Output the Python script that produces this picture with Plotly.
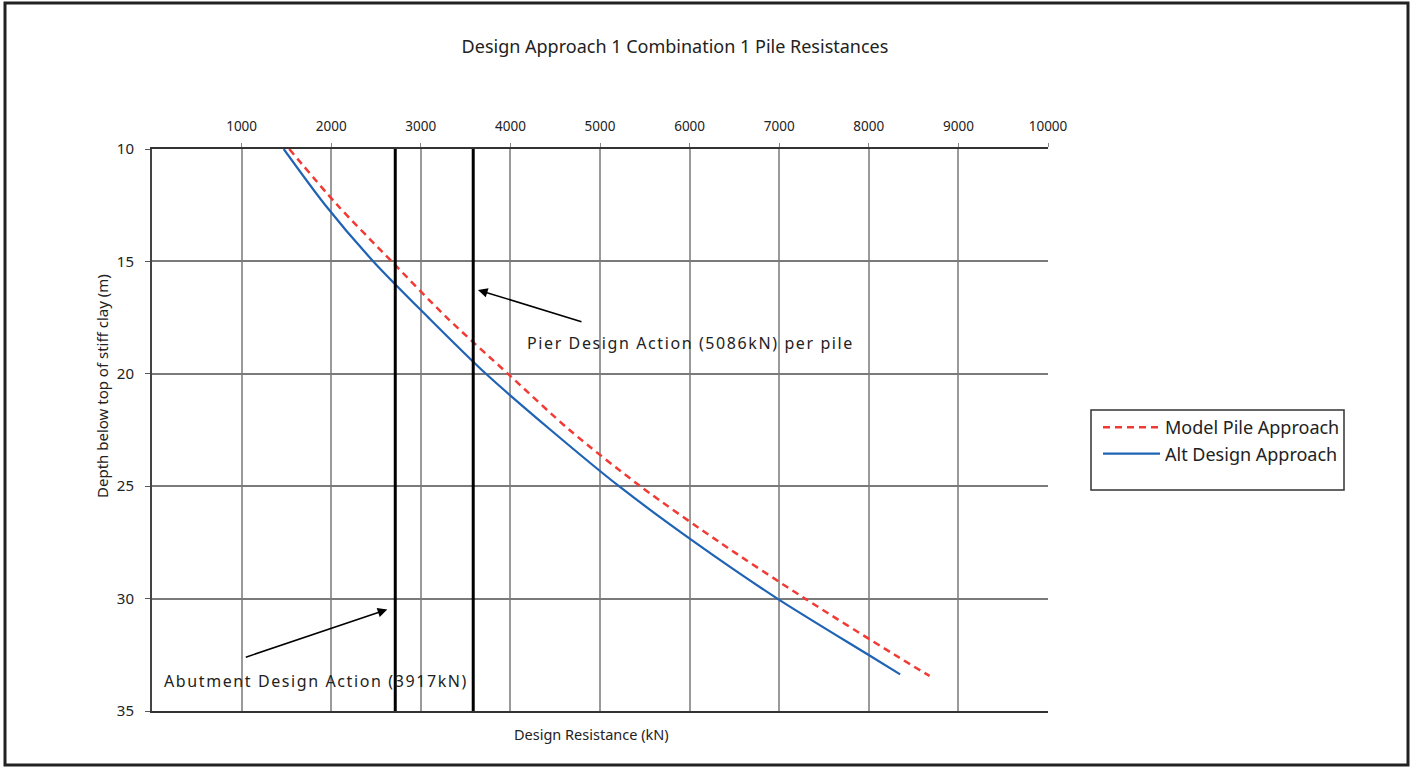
import plotly.graph_objects as go

# Design resistance (kN) against depth below top of stiff clay (m)
model_depth = [10, 12.5, 15, 17.5, 20, 22.5, 25, 27.5, 30, 32.5, 33.44]
model_resist = [1532, 2070, 2675, 3290, 3973, 4660, 5450, 6337, 7288, 8288, 8678]

alt_depth = [10, 12.5, 15, 17.5, 20, 22.5, 25, 27.5, 30, 32.5, 33.37]
alt_resist = [1470, 1935, 2470, 3085, 3727, 4450, 5212, 6060, 6979, 7995, 8350]

# Design action reference lines (position on resistance axis)
abutment_x = 2715
pier_x = 3585
depth_range = [10, 35]

x_ticks = [1000, 2000, 3000, 4000, 5000, 6000, 7000, 8000, 9000, 10000]
x_tick_labels = [str(v) for v in x_ticks]
y_ticks = [10, 15, 20, 25, 30, 35]

W, H = 1412, 767
L, R, T, B = 152, 1048, 149, 711  # plot area in pixels


def px(x):
    return (x - L) / (R - L)


def py(y):
    return (B - y) / (B - T)


FONT = "Noto Sans"
TXT = "#222222"

fig = go.Figure()

fig.add_trace(go.Scatter(
    x=model_resist, y=model_depth, mode="lines", name="Model Pile Approach",
    line=dict(color="#f23a35", width=2.5, dash="7px,5px", shape="spline", smoothing=0.8),
))
fig.add_trace(go.Scatter(
    x=alt_resist, y=alt_depth, mode="lines", name="Alt Design Approach",
    line=dict(color="#1f63b5", width=2.2, shape="spline", smoothing=0.8),
))
for xv in (abutment_x, pier_x):
    fig.add_trace(go.Scatter(
        x=[xv, xv], y=depth_range, mode="lines", showlegend=False,
        line=dict(color="#000000", width=3), hoverinfo="skip",
    ))

spaced = '<span style="letter-spacing:1.6px">{}</span>'

annotations = [
    # Pier design action label and arrow
    dict(x=4165, y=18.63, xref="x", yref="y", text=spaced.format("Pier Design Action (5086kN) per pile"),
         showarrow=False, xanchor="left", yanchor="middle", font=dict(size=16, color=TXT, family=FONT)),
    dict(x=3638, y=16.27, ax=4810, ay=17.70, xref="x", yref="y", axref="x", ayref="y",
         text="", showarrow=True, arrowhead=2, arrowsize=1.2, arrowwidth=1.6, arrowcolor="#000000",
         standoff=0),
    # Abutment design action label and arrow
    dict(x=110, y=33.67, xref="x", yref="y", text=spaced.format("Abutment Design Action (3917kN)"),
         showarrow=False, xanchor="left", yanchor="middle", font=dict(size=16, color=TXT, family=FONT)),
    dict(x=2626, y=30.48, ax=1030, ay=32.63, xref="x", yref="y", axref="x", ayref="y",
         text="", showarrow=True, arrowhead=2, arrowsize=1.2, arrowwidth=1.6, arrowcolor="#000000",
         standoff=0),
    # Axis titles
    dict(x=px(591), y=py(734), xref="paper", yref="paper", text="Design Resistance (kN)",
         showarrow=False, xanchor="center", yanchor="middle", font=dict(size=14.5, color=TXT, family=FONT)),
    dict(x=px(102), y=py(386), xref="paper", yref="paper", text="Depth below top of stiff clay (m)",
         showarrow=False, xanchor="center", yanchor="middle", textangle=-90,
         font=dict(size=15, color=TXT, family=FONT)),
]

shapes = [
    # outer frame
    dict(type="rect", xref="paper", yref="paper", x0=px(5), x1=px(1408), y0=py(765), y1=py(3),
         line=dict(color="#222222", width=3), layer="below"),
    # legend box
    dict(type="rect", xref="paper", yref="paper", x0=px(1091), x1=px(1344), y0=py(490), y1=py(410),
         line=dict(color="#333333", width=1.5), layer="below"),
]

fig.update_layout(
    width=W, height=H,
    margin=dict(l=L, r=W - R, t=T, b=H - B),
    paper_bgcolor="white", plot_bgcolor="white",
    title=dict(text="Design Approach 1 Combination 1 Pile Resistances",
               x=675 / W, y=1 - 47 / H, xanchor="center", yanchor="middle",
               font=dict(size=18, color=TXT, family=FONT)),
    font=dict(family=FONT, color=TXT),
    showlegend=True,
    legend=dict(x=px(1098), y=py(409), xanchor="left", yanchor="top",
                bgcolor="rgba(0,0,0,0)", borderwidth=0, itemwidth=57,
                font=dict(size=18, color=TXT, family=FONT), tracegroupgap=0),
    annotations=annotations,
    shapes=shapes,
)

fig.update_xaxes(
    range=[0, 10000], side="top", tickvals=x_ticks, ticktext=x_tick_labels,
    showgrid=True, gridcolor="#9a9a9a", gridwidth=1.5,
    showline=True, linecolor="#333333", linewidth=2, mirror=True,
    ticks="outside", ticklen=4, tickcolor="#888888", ticklabelstandoff=7,
    tickfont=dict(size=13.5, color=TXT, family=FONT), zeroline=False,
)
fig.update_yaxes(
    range=[35, 10], tickvals=y_ticks,
    showgrid=True, gridcolor="#7a7a7a", gridwidth=1.8,
    showline=True, linecolor="#444444", linewidth=2,
    ticks="outside", ticklen=5, tickcolor="#555555", ticklabelstandoff=8,
    tickfont=dict(size=15, color=TXT, family=FONT), zeroline=False,
)

fig.write_html("out.html")
